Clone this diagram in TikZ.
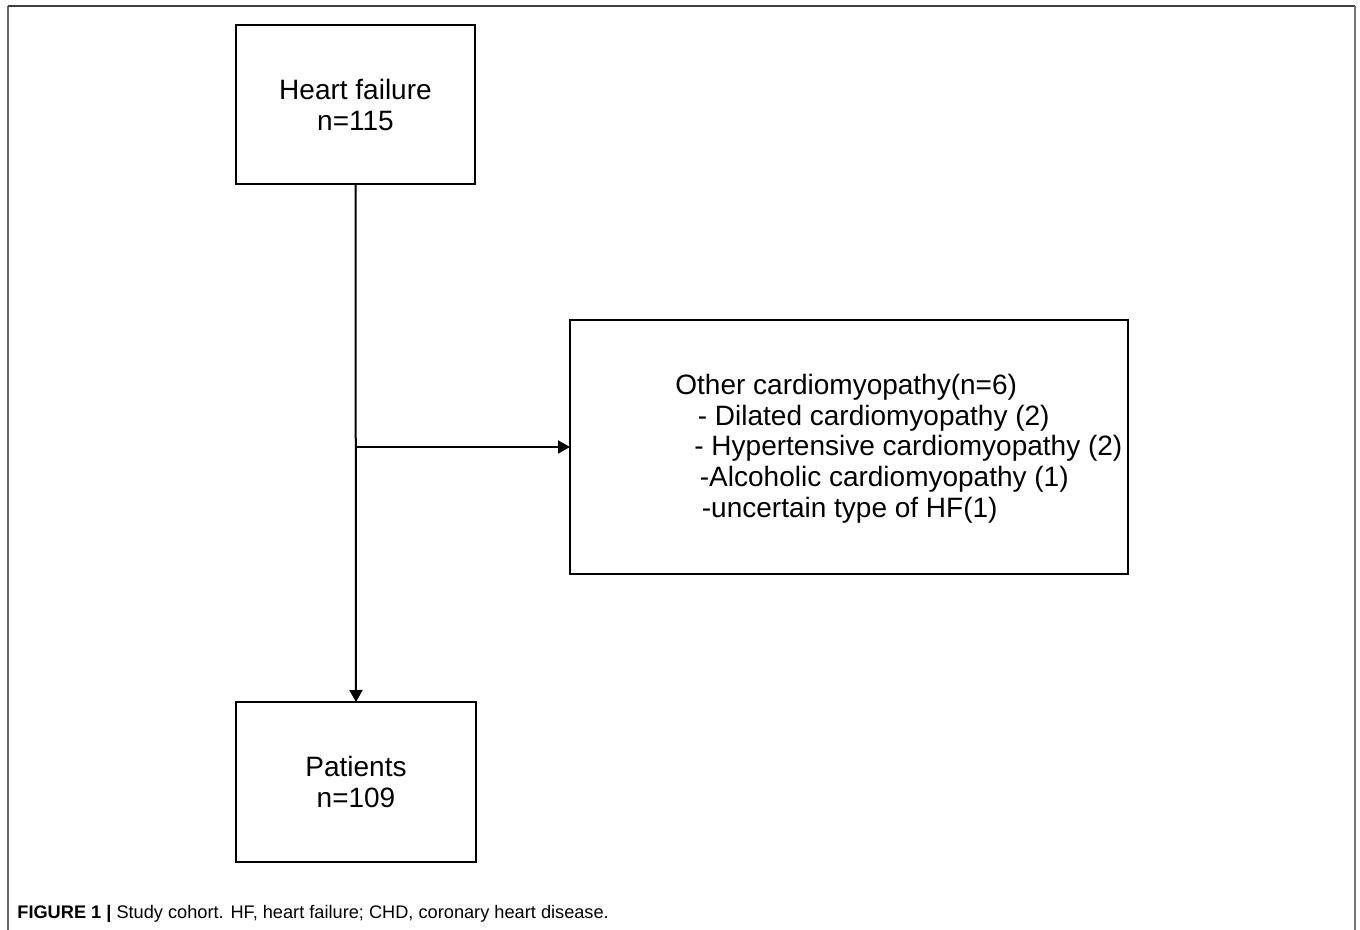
\documentclass[tikz,border=0pt]{standalone}
\usepackage{fontspec}
\setmainfont{Liberation Sans}
\usetikzlibrary{arrows.meta}
\begin{document}
\begin{tikzpicture}[x=0.5pt,y=-0.5pt,
  box/.style={draw=black,line width=1.2pt,minimum width=#1,inner sep=0pt,outer sep=0pt},
  lbl/.style={font=\fontsize{14pt}{15.6pt}\selectfont,align=center,inner sep=0pt},
  line/.style={font=\fontsize{14pt}{15.6pt}\selectfont,anchor=base west,inner sep=0pt},
  conn/.style={draw=black,line width=1pt,-{Triangle[length=6pt,width=6.5pt]}},
  frame/.style={line width=1pt}]
\useasboundingbox (0,0) rectangle (1360,930);
\fill[white] (0,0) rectangle (1360,930);
% outer frame
\draw[frame,draw=black!60] (8,940) -- (8,6);
\draw[frame,draw=black!75] (8,6) -- (1355,6);
\draw[frame,draw=black!55] (1355,6) -- (1355,940);
% boxes
\node[box=119.5pt,minimum height=79.5pt] (hf) at (355.5,104.5) {};
\node[lbl] (hft) at (355.5,105) {Heart failure\\n=115};
\node[box=120pt,minimum height=80pt] (pat) at (356,782) {};
\node[lbl] (patt) at (356,782) {Patients\\n=109};
\node[box=279pt,minimum height=127pt] (oth) at (849,447) {};
\node[line] (l1) at (675,395) {Other cardiomyopathy(n=6)};
\node[line] (l2) at (697.5,425.5) {- Dilated cardiomyopathy (2)};
\node[line] (l3) at (694,456) {- Hypertensive cardiomyopathy (2)};
\node[line] (l4) at (699.5,486.5) {-Alcoholic cardiomyopathy (1)};
\node[line] (l5) at (701.5,517) {-uncertain type of HF(1)};
% connectors
\draw[conn] (hf.south) -- (pat.north);
\coordinate (j) at (hf.south |- oth.west);
\draw[conn] (j) -- (oth.west);
% caption
\node[anchor=base west,inner sep=0pt,font=\fontsize{9.1pt}{11pt}\selectfont] (cap) at (17,918)
  {\textbf{FIGURE 1 |} Study cohort. HF, heart failure; CHD, coronary heart disease.};
\end{tikzpicture}
\end{document}
